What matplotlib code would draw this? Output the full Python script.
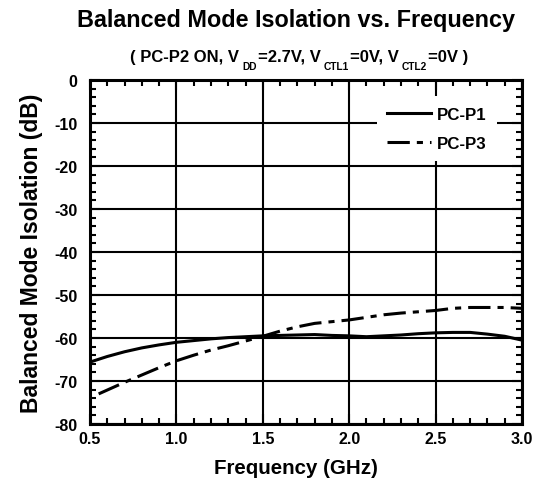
import matplotlib
matplotlib.use("Agg")
import matplotlib.pyplot as plt
from matplotlib.ticker import MultipleLocator

plt.rcParams['font.family'] = ['Liberation Sans', 'DejaVu Sans']
plt.rcParams['font.weight'] = 'bold'

title = "Balanced Mode Isolation vs. Frequency"
subtitle_parts = [("( PC-P2 ON, V", False), ("DD", True), ("=2.7V, V", False),
                  ("CTL1", True), ("=0V, V", False), ("CTL2", True), ("=0V )", False)]
xlabel = "Frequency (GHz)"
ylabel = "Balanced Mode Isolation (dB)"

p1_freq = [0.5, 0.6, 0.7, 0.8, 0.9, 1.0, 1.1, 1.2, 1.3, 1.4, 1.5, 1.6, 1.7,
           1.8, 1.9, 2.0, 2.1, 2.2, 2.3, 2.4, 2.5, 2.6, 2.7, 2.8, 2.9, 3.0]
p1_iso = [-65.6, -64.3, -63.2, -62.3, -61.6, -61.0, -60.6, -60.2, -59.9, -59.7,
          -59.5, -59.4, -59.3, -59.2, -59.4, -59.5, -59.7, -59.5, -59.3, -59.0,
          -58.8, -58.7, -58.7, -59.1, -59.6, -60.5]

p3_freq = [0.55, 0.6, 0.7, 0.8, 0.9, 1.0, 1.1, 1.2, 1.3, 1.4, 1.5, 1.6, 1.7,
           1.8, 1.9, 2.0, 2.1, 2.2, 2.3, 2.4, 2.5, 2.6, 2.7, 2.8, 2.9, 3.0]
p3_iso = [-73.0, -72.1, -70.3, -68.6, -66.9, -65.3, -64.0, -62.8, -61.8, -60.7,
          -59.6, -58.4, -57.4, -56.6, -56.2, -55.8, -55.2, -54.6, -54.2, -53.9,
          -53.6, -53.1, -52.9, -52.9, -52.9, -53.1]

xticks = [0.5, 1.0, 1.5, 2.0, 2.5, 3.0]
xticklabels = ["0.5", "1.0", "1.5", "2.0", "2.5", "3.0"]
yticks = [0, -10, -20, -30, -40, -50, -60, -70, -80]
yticklabels = ["0", "-10", "-20", "-30", "-40", "-50", "-60", "-70", "-80"]

W, H = 540, 485
fig = plt.figure(figsize=(5.4, 4.85), dpi=100)
ax = fig.add_axes([90/W, 1-425/H, 432/W, 344/H])

ax.plot(p1_freq, p1_iso, color='black', lw=2.2, label='PC-P1', zorder=3)
ax.plot(p3_freq, p3_iso, color='black', lw=2.2, linestyle=(0, (7.3, 2.3, 2.0, 2.3)),
        label='PC-P3', zorder=3)

ax.set_xlim(0.5, 3.0)
ax.set_ylim(-80, 0)
ax.set_xticks(xticks)
ax.set_xticklabels(xticklabels)
ax.set_yticks(yticks)
ax.set_yticklabels(yticklabels)
ax.xaxis.set_minor_locator(MultipleLocator(0.1))
ax.yaxis.set_minor_locator(MultipleLocator(2))
ax.grid(True, which='major', color='black', lw=1.5)
ax.set_axisbelow(True)
ax.tick_params(which='both', direction='in', top=True, right=True, width=1.5)
ax.tick_params(which='major', length=7, labelsize=11.5)
ax.tick_params(which='minor', length=4)
ax.tick_params(axis='y', pad=9)
ax.tick_params(axis='x', pad=5)
for s in ax.spines.values():
    s.set_linewidth(2.2)

ax.set_xlabel(xlabel, fontsize=14.8, fontweight='bold', va='center')
ax.xaxis.set_label_coords((296-90)/432, (425-469)/344)
ax.set_ylabel(ylabel, fontsize=16.5, fontweight='bold', labelpad=8)

leg = ax.legend(loc='upper right', bbox_to_anchor=(0.962, 0.977), frameon=True,
                fancybox=False, edgecolor='none', facecolor='white', framealpha=1,
                fontsize=12.2, handlelength=2.6, handletextpad=0.35, labelspacing=0.85,
                borderpad=0.6)
leg.set_zorder(4)

fig.text(296/W, 1-20/H, title, ha='center', va='center', fontsize=16.8, fontweight='bold')

# subtitle built piecewise so subscripts sit low like the reference
renderer = fig.canvas.get_renderer()
main_fs, sub_fs = 12.0, 7.3
sub_drop = 8.0      # px below main baseline
gap_before_sub, gap_after_sub = 3.0, 1.0
base_y = 62.0       # main baseline, px from top
texts = []
for txt, is_sub in subtitle_parts:
    t = fig.text(0, 0, txt, fontsize=sub_fs if is_sub else main_fs, fontweight='bold',
                 ha='left', va='baseline', transform=None)
    texts.append((t, is_sub))
widths = []
for t, is_sub in texts:
    widths.append(t.get_window_extent(renderer=renderer).width)
total = 0.0
for (t, is_sub), w in zip(texts, widths):
    if is_sub:
        total += gap_before_sub + w + gap_after_sub
    else:
        total += w
x = 299.5 - total / 2
for (t, is_sub), w in zip(texts, widths):
    if is_sub:
        x += gap_before_sub
        t.set_position((x, H - base_y - sub_drop))
        x += w + gap_after_sub
    else:
        t.set_position((x, H - base_y))
        x += w

fig.savefig("out.png", dpi=100)
